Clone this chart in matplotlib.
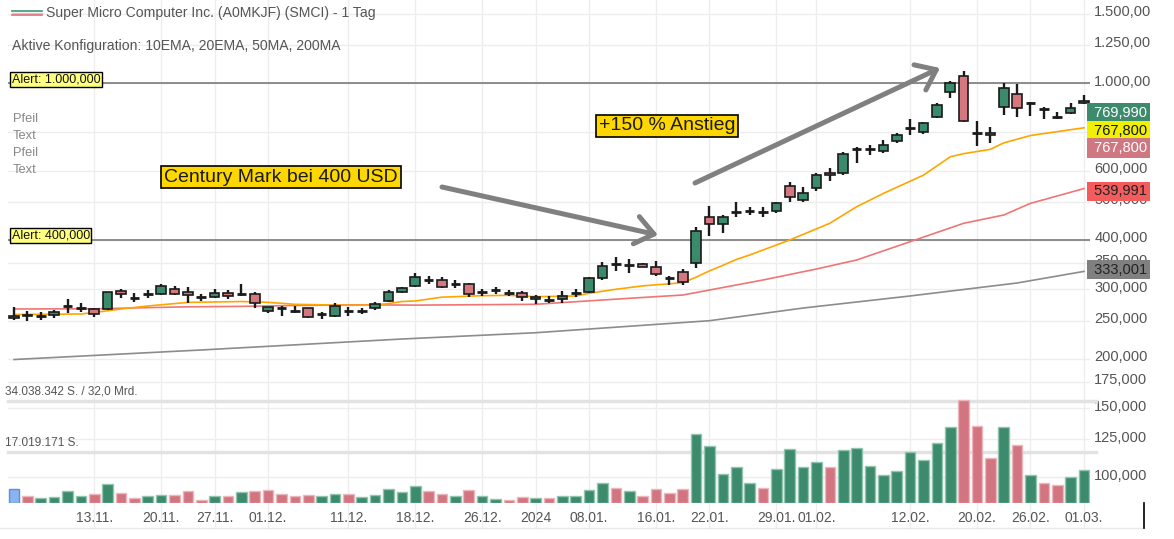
import matplotlib

matplotlib.use("Agg")
import matplotlib.pyplot as plt
import matplotlib.transforms as mtransforms
from matplotlib.lines import Line2D
from matplotlib.patches import FancyArrowPatch
from matplotlib.ticker import NullLocator

plt.rcParams["font.family"] = ["Liberation Sans", "DejaVu Sans"]

TITLE = "Super Micro Computer Inc. (A0MKJF) (SMCI) - 1 Tag"
CONFIG = "Aktive Konfiguration: 10EMA, 20EMA, 50MA, 200MA"

# daily candles (EUR)
opens = [253.7, 258.9, 256.7, 258.2, 272.1, 269.4, 267.4, 267.4, 297.0, 285.1,
         291.8, 291.8, 300.5, 294.8, 286.8, 287.3, 293.0, 291.8, 291.3, 264.3,
         268.5, 264.7, 268.5, 259.7, 256.7, 264.3, 264.3, 268.5, 280.6, 295.8,
         306.3, 316.7, 316.7, 309.4, 309.4, 294.8, 298.7, 294.1, 293.0, 283.0,
         281.8, 283.0, 293.0, 295.8, 319.9, 347.1, 345.7, 347.1, 342.2, 321.0,
         331.2, 350.3, 456.6, 439.1, 471.8, 474.4, 471.8, 473.6, 548.1, 505.0,
         540.8, 590.2, 590.2, 679.1, 679.1, 673.6, 712.8, 770.3, 750.0, 821.4,
         947.0, 1041.7, 748.2, 748.2, 870.7, 936.0, 888.1, 859.1, 818.5, 840.7,
         888.1]
highs = [270.5, 264.7, 263.2, 265.8, 283.0, 276.9, 268.9, 295.8, 300.5, 293.6,
         298.7, 309.4, 305.8, 304.5, 291.8, 300.5, 298.7, 309.4, 294.8, 271.0,
         272.1, 272.1, 269.4, 263.2, 277.4, 271.0, 269.4, 278.0, 298.7, 304.5,
         330.5, 324.8, 321.7, 316.7, 310.7, 300.0, 303.5, 298.7, 297.0, 290.1,
         289.0, 297.5, 300.5, 322.9, 352.4, 362.8, 357.4, 349.1, 354.5, 324.7,
         337.1, 432.3, 488.6, 462.8, 498.4, 485.6, 485.6, 498.3, 562.0, 545.8,
         590.2, 607.7, 669.7, 687.1, 696.4, 717.0, 748.2, 809.0, 797.7, 891.2,
         1013.6, 1074.5, 801.0, 774.8, 1001.8, 994.2, 896.4, 870.7, 845.6, 891.2,
         932.2]
lows = [250.7, 249.2, 250.7, 253.7, 261.7, 262.7, 255.2, 265.8, 285.1, 278.5,
        285.1, 290.1, 290.1, 276.9, 280.6, 285.1, 283.4, 289.0, 268.9, 260.8,
        257.1, 260.8, 253.3, 252.2, 255.6, 257.1, 259.7, 265.8, 279.0, 293.0,
        303.5, 309.4, 301.7, 301.7, 286.3, 289.0, 291.8, 289.0, 280.6, 275.3,
        277.4, 276.4, 287.3, 293.0, 316.7, 334.4, 330.5, 341.1, 324.7, 307.6,
        307.6, 339.1, 410.2, 416.0, 458.2, 462.8, 458.2, 468.9, 500.0, 500.0,
        533.2, 565.3, 584.4, 625.8, 656.9, 665.8, 705.8, 738.2, 742.6, 813.8,
        914.5, 797.7, 692.3, 703.3, 829.6, 818.5, 826.2, 810.4, 810.4, 833.0,
        883.0]
closes = [256.7, 257.4, 256.7, 263.2, 272.1, 269.4, 259.7, 295.3, 291.8, 285.1,
          291.8, 306.3, 291.8, 290.1, 286.8, 293.0, 289.0, 291.8, 276.4, 271.0,
          268.5, 264.7, 254.7, 259.7, 272.6, 264.3, 264.3, 274.8, 295.8, 301.7,
          322.9, 316.7, 304.5, 309.4, 291.8, 294.8, 298.7, 294.1, 286.3, 287.3,
          281.8, 289.0, 293.0, 321.0, 344.3, 347.1, 345.7, 342.2, 328.0, 321.0,
          313.6, 422.3, 439.1, 456.6, 471.8, 474.4, 471.8, 495.4, 514.8, 527.0,
          584.4, 584.4, 660.7, 679.1, 679.1, 696.4, 738.2, 770.3, 790.3, 879.4,
          998.3, 802.4, 748.2, 739.5, 972.8, 862.6, 888.1, 859.1, 818.5, 862.6,
          901.7]

# volume in million shares, colour code per bar
volume_mio = [4.75, 2.32, 1.76, 1.99, 3.89, 2.32, 2.89, 6.21, 3.42, 1.66,
              2.22, 2.76, 2.76, 3.89, 0.90, 2.32, 2.22, 3.55, 3.99, 4.22,
              2.89, 2.42, 2.66, 2.32, 3.09, 3.09, 1.99, 2.66, 4.55, 3.65,
              5.65, 3.99, 3.09, 2.32, 4.42, 2.32, 1.33, 1.10, 1.99, 1.76,
              1.66, 2.22, 2.22, 4.22, 6.64, 5.08, 4.08, 2.22, 4.65, 3.42,
              4.75, 23.0, 18.8, 9.53, 11.96, 6.64, 4.88, 11.39, 17.93, 11.86,
              13.52, 11.96, 17.5, 18.37, 12.29, 9.3, 10.73, 16.84, 14.38, 20.03,
              25.24, 34.04, 25.47, 14.94, 25.24, 19.36, 9.4, 6.74, 5.88, 8.73,
              10.86]
volume_dir = ("b r g g g g r g r r g g r r r g r g r r r r r g g r g g g g "
              "g r r g r g g r r g r g g g g r g r r r r g g g g g r g g g "
              "g r g g g g g g g g g r r r g r g r r g g").split()
VOL_MAX = 34.038342
VOL_HALF = 17.019171

# moving averages (candle index, value)
ema_idx = [0, 5, 6, 8, 10, 13, 17, 19, 21, 25, 27, 28, 29, 30, 32, 35, 37, 39, 42, 43,
           45, 47, 50, 51, 52, 53, 54, 55, 58, 61, 63, 65, 68, 70, 71, 73, 74, 76, 80]
ema_vals = [258.9, 259.7, 262.0, 267.4, 272.1, 277.9, 279.3, 278.0, 274.8, 273.2, 273.7,
            276.0, 279.3, 280.2, 286.5, 289.0, 289.6, 287.3, 288.5, 293.0, 300.0, 306.0,
            311.7, 322.0, 334.0, 345.0, 357.0, 366.4, 400.0, 441.0, 485.6, 525.0, 584.0,
            650.0, 662.0, 679.0, 705.0, 736.0, 770.0]
ma50_idx = [0, 6, 10, 13, 17, 21, 26, 30, 35, 39, 42, 46, 50, 52, 56, 60, 63, 67, 71,
            74, 76, 80]
ma50_vals = [267.4, 267.7, 269.5, 270.8, 271.5, 272.9, 274.0, 273.5, 274.2, 274.8, 279.0,
             284.6, 290.1, 298.7, 316.7, 337.7, 355.9, 396.0, 440.9, 462.8, 495.4, 540.0]
ma200_idx = [0, 14, 29, 39, 52, 59, 67, 75, 80]
ma200_vals = [199.1, 210.5, 224.4, 232.8, 249.7, 268.9, 288.5, 311.2, 333.0]

tick_idx = [6, 11, 15, 19, 25, 30, 35, 39, 43, 48, 52, 57, 60, 67, 72, 76, 80]
tick_labels = ["13.11.", "20.11.", "27.11.", "01.12.", "11.12.", "18.12.", "26.12.",
               "2024", "08.01.", "16.01.", "22.01.", "29.01.", "01.02.", "12.02.",
               "20.02.", "26.02.", "01.03."]

price_ticks = [100, 125, 150, 175, 200, 250, 300, 350, 400, 500, 600, 1000, 1250, 1500]
price_labels = ["100,000", "125,000", "150,000", "175,000", "200,000", "250,000",
                "300,000", "350,000", "400,000", "500,000", "600,000", "1.000,00",
                "1.250,00", "1.500,00"]
grid_prices = price_ticks + [750]

alert_prices = [1000, 400]
alert_labels = ["Alert: 1.000,000", "Alert: 400,000"]

last_labels = ["769,990", "767,800", "767,800", "539,991", "333,001"]
last_label_pos = [839, 756, 684, 532, 336]
last_label_bg = ["#3d8b6d", "#f0f000", "#d07882", "#f25c5c", "#808080"]
last_label_fg = ["white", "#111111", "white", "#222222", "#222222"]

GREEN = "#3a8a6b"
RED = "#d4777f"
EDGE = "#1a1a1a"
TXT = "#555555"

W, H = 1174, 539


def fx(px):
    return px / W


def fy(py):
    return 1 - py / H


fig = plt.figure(figsize=(W / 100, H / 100), dpi=100)
ax = fig.add_axes([fx(8), fy(503), 1082 / W, 503 / H])
ax.set_yscale("log")
ax.set_ylim(86.17, 1623.3)
ax.set_xlim(-0.45, 80.45)
for s in ax.spines.values():
    s.set_visible(False)

# volume lives on a twin axis at the bottom of the same panel
ax2 = ax.twinx()
ax2.set_ylim(0, VOL_MAX * 503 / 102.5)
ax2.set_yticks([])
for s in ax2.spines.values():
    s.set_visible(False)

# grid
for p in grid_prices:
    ax.axhline(p, color="#ededed", lw=1, zorder=0)
for i in tick_idx:
    ax.axvline(i, ymin=-25 / 503, ymax=1, color="#ededed", lw=1, zorder=0, clip_on=False)

# alerts
for p, lbl in zip(alert_prices, alert_labels):
    ax.axhline(p, color="#7a7a7a", lw=1.2, zorder=2)
    ax.annotate(lbl, xy=(0, p), xycoords=("axes fraction", "data"),
                xytext=(3.5, 4), textcoords="offset pixels", ha="left", va="center",
                fontsize=9, color="#111111", zorder=6,
                bbox=dict(boxstyle="square,pad=0.12", fc="#ffff80", ec="black", lw=1))

# moving averages
ax.plot(ma200_idx, ma200_vals, color="#8c8c8c", lw=1.2, zorder=2)
ax.plot(ma50_idx, ma50_vals, color="#f07575", lw=1.2, zorder=2)
ax.plot(ema_idx, ema_vals, color="#ffa500", lw=1.2, zorder=2)

# candles
for i, (o, h, l, c) in enumerate(zip(opens, highs, lows, closes)):
    ax.vlines(i, l, h, color=EDGE, lw=1.7, zorder=3)
    if o == c:
        ax.hlines(o, i - 0.36, i + 0.36, color=EDGE, lw=2, zorder=4)
    else:
        ax.bar(i, abs(c - o), bottom=min(o, c), width=0.72,
               color=GREEN if c > o else RED, edgecolor=EDGE, lw=1.2, zorder=4)

# price axis on the right (after twinx, which moves ticks to the left)
ax.yaxis.set_minor_locator(NullLocator())
ax.set_yticks(price_ticks)
ax.set_yticklabels(price_labels)
ax.yaxis.tick_right()
ax.tick_params(axis="y", which="both", left=False, right=False, labelleft=False,
               labelright=True, length=0, pad=3, labelsize=10.5, labelcolor=TXT)
ax.set_xticks(tick_idx)
ax.set_xticklabels(tick_labels)
ax.tick_params(axis="x", length=0, pad=6, labelsize=10, labelcolor=TXT)
lift = mtransforms.ScaledTranslation(0, 3 / 100, fig.dpi_scale_trans)
for tk in ax.yaxis.get_major_ticks():
    tk.label2.set_transform(tk.label2.get_transform() + lift)

# last value boxes
blend = mtransforms.blended_transform_factory(ax.transAxes, ax.transData)
for lbl, pos, bg, fg in zip(last_labels, last_label_pos, last_label_bg, last_label_fg):
    ax.text(1.0, pos, " " + lbl, transform=blend, ha="left", va="center", fontsize=10.5,
            color=fg, zorder=7,
            bbox=dict(boxstyle="square,pad=0.18", fc=bg, ec="none"))

fill = {"g": "#3d8b6d", "r": "#d37580", "b": "#8ab4f0"}
edge = {"g": "#93c4b0", "r": "#ebb7bd", "b": "#5a8fe0"}
ax2.bar(range(len(volume_mio)), volume_mio, width=0.8,
        color=[fill[d] for d in volume_dir], edgecolor=[edge[d] for d in volume_dir], lw=1)
for v, lbl in [(VOL_MAX, "34.038.342 S. / 32,0 Mrd."), (VOL_HALF, "17.019.171 S.")]:
    ax2.axhline(v, xmax=1.006, color="#e2e2e2", lw=2.5, zorder=0, clip_on=False)
    ax2.annotate(lbl, xy=(0, v), xycoords=("axes fraction", "data"), xytext=(-3, 3),
                 textcoords="offset pixels", ha="left", va="bottom", fontsize=8.5, color=TXT)

# header texts
fig.add_artist(Line2D([fx(12), fx(42)], [fy(10.5)] * 2, color="#4f9c82", lw=1.3))
fig.add_artist(Line2D([fx(12), fx(42)], [fy(12.8)] * 2, color="#c8c8c8", lw=1.0))
fig.add_artist(Line2D([fx(12), fx(42)], [fy(15)] * 2, color="#e07b86", lw=1.3))
fig.text(fx(46), fy(13), TITLE, ha="left", va="center", fontsize=10.1, color=TXT)
fig.text(fx(12), fy(46), CONFIG, ha="left", va="center", fontsize=10.1, color=TXT)
for k, word in enumerate(["Pfeil", "Text", "Pfeil", "Text"]):
    fig.text(fx(13), fy(119 + 17 * k), word, ha="left", va="center", fontsize=9.3, color="#888888")

# drawn annotations
box = dict(boxstyle="square,pad=0.15", fc="#ffd700", ec="black", lw=1.2)
fig.text(fx(281), fy(177), "Century Mark bei 400 USD", ha="center", va="center",
         fontsize=14, color="#1a1a1a", bbox=box)
fig.text(fx(667), fy(126), "+150 % Anstieg", ha="center", va="center",
         fontsize=14, color="#1a1a1a", bbox=box)
arrow = dict(arrowstyle="->,head_length=13,head_width=10", mutation_scale=1, lw=3.6,
             color="#808080", shrinkA=0, shrinkB=0, capstyle="round", joinstyle="round")
fig.add_artist(FancyArrowPatch((fx(442), fy(187)), (fx(658), fy(235)),
                               transform=fig.transFigure, **arrow))
fig.add_artist(FancyArrowPatch((fx(695), fy(183)), (fx(940), fy(68)),
                               transform=fig.transFigure, **arrow))

# frame bits at the bottom
fig.add_artist(Line2D([0, fx(1144)], [fy(528)] * 2, color="#e8e8e8", lw=1))
fig.add_artist(Line2D([fx(1144)] * 2, [fy(528), fy(503)], color="black", lw=1.2))

fig.savefig("out.png", dpi=100, facecolor="white")
